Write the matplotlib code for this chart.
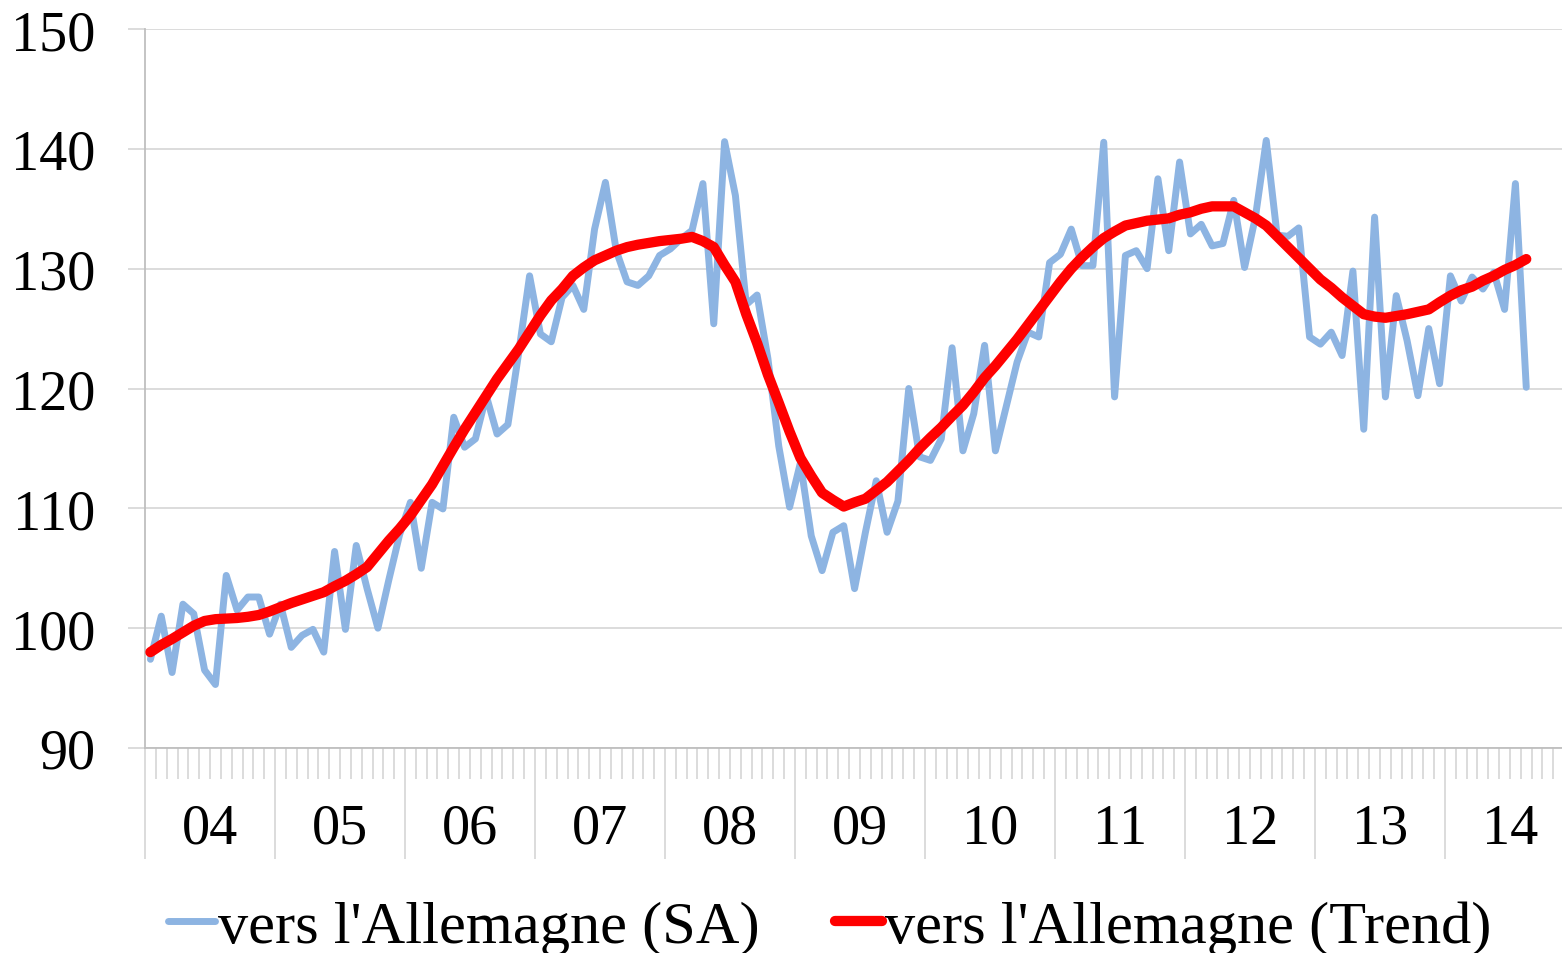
import numpy as np
import matplotlib
matplotlib.use("Agg")
import matplotlib.pyplot as plt
from matplotlib.lines import Line2D

plt.rcParams['font.family'] = ['Liberation Serif', 'DejaVu Serif']

# Monthly data, Jan 2004 - Aug 2014
sa_values = [
    97.4, 101.0, 96.3, 102.0, 101.2, 96.5, 95.3, 104.4, 101.5, 102.6, 102.6, 99.5,
    102.0, 98.4, 99.4, 99.9, 98.0, 106.4, 99.9, 106.9, 103.3, 100.0, 104.0, 107.8,
    110.5, 105.0, 110.5, 109.95, 117.6, 115.1, 115.8, 119.4, 116.2, 117.0, 123.0, 129.4,
    124.55, 123.9, 127.6, 128.6, 126.6, 133.3, 137.2, 131.5, 128.9, 128.6, 129.4, 131.1,
    131.65, 132.5, 133.2, 137.1, 125.4, 140.6, 136.1, 127.0, 127.8, 122.5, 115.2, 110.1,
    113.8, 107.7, 104.8, 108.0, 108.55, 103.3, 108.0, 112.3, 108.0, 110.6, 120.0, 114.3,
    114.0, 115.8, 123.4, 114.8, 117.9, 123.6, 114.8, 118.5, 122.2, 124.7, 124.3, 130.5,
    131.2, 133.3, 130.25, 130.25, 140.55, 119.3, 131.1, 131.5, 130.0, 137.5, 131.5, 138.9,
    132.9, 133.7, 131.9, 132.1, 135.7, 130.1, 134.3, 140.7, 132.8, 132.7, 133.4, 124.3,
    123.7, 124.7, 122.75, 129.8, 116.6, 134.3, 119.3, 127.75, 124.0, 119.4, 125.0, 120.4,
    129.4, 127.3, 129.3, 128.3, 129.7, 126.6, 137.1, 120.1,
]
trend_values = [
    98.0, 98.6, 99.1, 99.65, 100.2, 100.6, 100.75, 100.8, 100.85, 100.95, 101.1, 101.4,
    101.75, 102.1, 102.4, 102.7, 103.0, 103.5, 103.95, 104.5, 105.1, 106.2, 107.3, 108.3,
    109.4, 110.7, 112.0, 113.55, 115.1, 116.6, 118.0, 119.4, 120.8, 122.05, 123.3, 124.7,
    126.1, 127.35, 128.3, 129.4, 130.1, 130.7, 131.1, 131.5, 131.8, 132.0, 132.15, 132.3,
    132.4, 132.5, 132.65, 132.3, 131.8, 130.3, 128.9, 126.2, 123.8, 121.15, 118.8, 116.4,
    114.2, 112.7, 111.3, 110.7, 110.15, 110.5, 110.8, 111.5, 112.2, 113.1, 114.0, 115.0,
    115.9, 116.75, 117.7, 118.6, 119.7, 120.9, 121.9, 123.0, 124.1, 125.3, 126.5, 127.7,
    128.9, 130.0, 130.95, 131.8, 132.55, 133.1, 133.6, 133.8, 134.0, 134.1, 134.2, 134.5,
    134.7, 135.0, 135.2, 135.2, 135.2, 134.7, 134.2, 133.6, 132.7, 131.8, 130.9, 130.0,
    129.1, 128.4, 127.6, 126.9, 126.2, 126.0, 125.9, 126.05, 126.2, 126.4, 126.6, 127.2,
    127.75, 128.2, 128.5, 129.0, 129.4, 129.9, 130.3, 130.8,
]
year_labels = ["04", "05", "06", "07", "08", "09", "10", "11", "12", "13", "14"]
series_names = ["vers l'Allemagne (SA)", "vers l'Allemagne (Trend)"]

SA_COLOR = '#8DB4E2'
TREND_COLOR = '#FF0000'
SA_LW = 5.0
TREND_LW = 7.4

W, H = 1562, 954
fig = plt.figure(figsize=(W / 100, H / 100), dpi=100)
n_cat = 12 * len(year_labels)
px_per_cat = 130 / 12
left_px, right_px, top_px, bot_px = 145, 145 + n_cat * px_per_cat, 30, 749
ax = fig.add_axes([left_px / W, 1 - bot_px / H, (right_px - left_px) / W, (bot_px - top_px) / H])

x = np.arange(len(sa_values)) + 0.5
ax.plot(x, sa_values, color=SA_COLOR, lw=SA_LW, solid_capstyle='round', solid_joinstyle='round', zorder=3)
ax.plot(np.arange(len(trend_values)) + 0.5, trend_values, color=TREND_COLOR, lw=TREND_LW,
        solid_capstyle='round', solid_joinstyle='round', zorder=4)

ax.set_xlim(0, n_cat)
ax.set_ylim(90, 150)
ax.set_yticks(np.arange(90, 151, 10))
ax.yaxis.grid(True, color='#D9D9D9', lw=1.3)
ax.set_axisbelow(True)
for s in ['top', 'right']:
    ax.spines[s].set_visible(False)
for s in ['left', 'bottom']:
    ax.spines[s].set_color('#BFBFBF')
    ax.spines[s].set_linewidth(1.3)

ax.tick_params(axis='y', length=12, width=1.3, color='#D9D9D9', pad=24, labelsize=40.5, labelcolor='black')

# x axis: year boundaries (long ticks), month boundaries (short ticks)
year_bounds = np.arange(0, n_cat + 1, 12)
month_bounds = [m for m in range(0, n_cat + 1) if m % 12 != 0]
ax.set_xticks(year_bounds)
ax.set_xticklabels([])
ax.set_xticks(month_bounds, minor=True)
ax.tick_params(axis='x', which='major', length=80, width=1.3, color='#D9D9D9')
ax.tick_params(axis='x', which='minor', length=22, width=1.3, color='#D9D9D9')

trans = ax.get_xaxis_transform()
for k, lab in enumerate(year_labels):
    ax.text(12 * k + 6, -81 / (bot_px - top_px), lab, transform=trans, ha='center', va='center',
            fontsize=40.5, clip_on=False)

handles = [Line2D([], [], color=SA_COLOR, lw=SA_LW, solid_capstyle='round'),
           Line2D([], [], color=TREND_COLOR, lw=TREND_LW, solid_capstyle='round')]
fig.legend(handles, series_names, loc='center', bbox_to_anchor=(0.531, 0.027), ncol=2,
           frameon=False, fontsize=43.5, handlelength=0.78, handletextpad=0.05, columnspacing=1.25,
           borderaxespad=0, borderpad=0)

fig.savefig('out.png', dpi=100)
